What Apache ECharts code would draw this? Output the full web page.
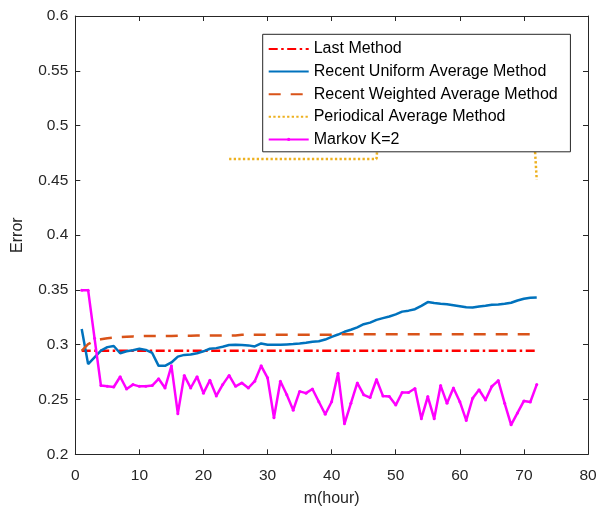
<!DOCTYPE html>
<html>
<head>
<meta charset="utf-8">
<script src="https://cdn.jsdelivr.net/npm/echarts@6/dist/echarts.min.js"></script>
<style>
  html, body { margin: 0; padding: 0; background: #fff; }
  #chart { width: 598px; height: 510px; }
</style>
</head>
<body>
<div id="chart"></div>
<script>
// Forecast error against history length m (hours) for five prediction methods
const hours = [1,2,3,4,5,6,7,8,9,10,11,12,13,14,15,16,17,18,19,20,21,22,23,24,25,26,27,28,29,30,31,32,33,34,35,36,
  37,38,39,40,41,42,43,44,45,46,47,48,49,50,51,52,53,54,55,56,57,58,59,60,61,62,63,64,65,66,67,68,69,70,71,72];

const lastMethod = [0.2945,0.2945,0.2945,0.2945,0.2945,0.2945,0.2945,0.2945,0.2945,0.2945,0.2945,0.2945,
  0.2945,0.2945,0.2945,0.2945,0.2945,0.2945,0.2945,0.2945,0.2945,0.2945,0.2945,0.2945,
  0.2945,0.2945,0.2945,0.2945,0.2945,0.2945,0.2945,0.2945,0.2945,0.2945,0.2945,0.2945,
  0.2945,0.2945,0.2945,0.2945,0.2945,0.2945,0.2945,0.2945,0.2945,0.2945,0.2945,0.2945,
  0.2945,0.2945,0.2945,0.2945,0.2945,0.2945,0.2945,0.2945,0.2945,0.2945,0.2945,0.2945,
  0.2945,0.2945,0.2945,0.2945,0.2945,0.2945,0.2945,0.2945,0.2945,0.2945,0.2945,0.2945];

const uniformAvg = [0.3143,0.2823,0.2885,0.2947,0.2978,0.2988,0.2922,0.2940,0.2950,0.2963,0.2953,0.2925,
  0.2807,0.2807,0.2838,0.2891,0.2907,0.2910,0.2922,0.2940,0.2963,0.2969,0.2981,0.2997,
  0.3000,0.2997,0.2994,0.2984,0.3012,0.3000,0.3000,0.3000,0.3003,0.3006,0.3012,0.3019,
  0.3028,0.3031,0.3047,0.3072,0.3093,0.3118,0.3137,0.3159,0.3187,0.3202,0.3227,0.3243,
  0.3258,0.3277,0.3302,0.3311,0.3324,0.3355,0.3389,0.3380,0.3373,0.3370,0.3361,0.3352,
  0.3342,0.3339,0.3348,0.3355,0.3364,0.3367,0.3373,0.3383,0.3404,0.3420,0.3429,0.3432];

const weightedAvg = [0.2945,0.3005,0.3035,0.3050,0.3060,0.3065,0.3070,0.3073,0.3076,0.3078,0.3080,0.3080,
  0.3080,0.3080,0.3080,0.3083,0.3083,0.3083,0.3084,0.3084,0.3085,0.3085,0.3085,0.3085,
  0.3085,0.3090,0.3090,0.3090,0.3090,0.3090,0.3090,0.3090,0.3090,0.3090,0.3090,0.3090,
  0.3090,0.3090,0.3090,0.3090,0.3095,0.3095,0.3095,0.3095,0.3095,0.3095,0.3095,0.3095,
  0.3095,0.3095,0.3095,0.3095,0.3095,0.3095,0.3095,0.3095,0.3095,0.3095,0.3095,0.3095,
  0.3095,0.3095,0.3095,0.3095,0.3095,0.3095,0.3095,0.3095,0.3095,0.3095,0.3095,0.3095];

const periodicalHours = [24,25,26,27,28,29,30,31,32,33,34,35,36,37,38,39,40,41,42,43,44,45,46,47,
  48,49,50,51,52,53,54,55,56,57,58,59,60,61,62,63,64,65,66,67,68,69,70,71,72];
const periodicalAvg = [0.4695,0.4695,0.4695,0.4695,0.4695,0.4695,0.4695,0.4695,0.4695,0.4695,0.4695,0.4695,
  0.4695,0.4695,0.4695,0.4695,0.4695,0.4695,0.4695,0.4695,0.4695,0.4695,0.4695,0.4695,
  0.55,0.55,0.55,0.55,0.55,0.55,0.55,0.55,0.55,0.55,0.55,0.55,
  0.55,0.55,0.55,0.55,0.55,0.55,0.55,0.55,0.55,0.55,0.55,0.55,0.4504];

const markovK2 = [0.3498,0.3498,0.3060,0.2627,0.2620,0.2614,0.2708,0.2596,0.2636,0.2620,0.2620,0.2627,
  0.2689,0.2605,0.2807,0.2371,0.2720,0.2605,0.2708,0.2558,0.2676,0.2533,0.2636,0.2720,
  0.2620,0.2651,0.2605,0.2667,0.2807,0.2698,0.2334,0.2667,0.2543,0.2403,0.2574,0.2558,
  0.2596,0.2480,0.2365,0.2480,0.2739,0.2278,0.2465,0.2651,0.2543,0.2518,0.2683,0.2533,
  0.2527,0.2449,0.2564,0.2564,0.2600,0.2325,0.2527,0.2325,0.2627,0.2465,0.2605,0.2480,
  0.2309,0.2512,0.2589,0.2496,0.2620,0.2673,0.2465,0.2269,0.2378,0.2487,0.2477,0.2636];

const seriesNames = ['Last Method', 'Recent Uniform Average Method', 'Recent Weighted Average Method',
  'Periodical Average Method', 'Markov K=2'];

const xTicks = { min: 0, max: 80, interval: 10 };
const yTicks = { min: 0.2, max: 0.6, interval: 0.05 };

const FONT = '"Liberation Sans", Arial, Helvetica, sans-serif';
const AXIS_COLOR = '#262626';

function pairs(xs, ys) {
  return xs.map((x, i) => [x, ys[i]]);
}

function axisBase(extra) {
  return Object.assign({
    type: 'value',
    axisLine: { show: true, onZero: false, lineStyle: { color: AXIS_COLOR, width: 1 } },
    axisTick: { show: true, inside: true, length: 5, lineStyle: { color: AXIS_COLOR, width: 1 } },
    splitLine: { show: false },
    axisLabel: { show: false }
  }, extra);
}

// Only the Markov entry carries a point marker in its legend sample
const legendData = seriesNames.map((name, i) => (
  i === seriesNames.length - 1 ? { name: name } : { name: name, itemStyle: { opacity: 0 } }
));

const chart = echarts.init(document.getElementById('chart'), null, { renderer: 'canvas' });

chart.setOption({
  animation: false,
  backgroundColor: '#ffffff',
  grid: {
    left: 75.3, top: 16, right: 10, bottom: 55.7,
    containLabel: false, outerBoundsMode: 'none'
  },
  xAxis: [
    axisBase(Object.assign({}, xTicks, {
      position: 'bottom',
      axisLabel: { show: true, color: AXIS_COLOR, fontSize: 15.5, fontFamily: FONT, margin: 13 },
      name: 'm(hour)', nameLocation: 'middle', nameGap: 36,
      nameTextStyle: { color: AXIS_COLOR, fontSize: 16, fontFamily: FONT }
    })),
    axisBase(Object.assign({}, xTicks, { position: 'top' }))
  ],
  yAxis: [
    axisBase(Object.assign({}, yTicks, {
      position: 'left',
      axisLabel: { show: true, color: AXIS_COLOR, fontSize: 15.5, fontFamily: FONT, margin: 7 },
      name: 'Error', nameLocation: 'middle', nameGap: 50,
      nameTextStyle: { color: AXIS_COLOR, fontSize: 16, fontFamily: FONT }
    })),
    axisBase(Object.assign({}, yTicks, { position: 'right' }))
  ],
  legend: {
    orient: 'vertical',
    left: 262.7, top: 34.3,
    padding: [6.7, 12.7, 4.4, 5],
    itemWidth: 40, itemHeight: 4, itemGap: 6.6,
    backgroundColor: '#ffffff',
    borderColor: AXIS_COLOR, borderWidth: 1,
    textStyle: { color: '#000000', fontSize: 16, fontFamily: FONT },
    data: legendData,
    z: 10
  },
  series: [
    {
      name: seriesNames[0], type: 'line', data: pairs(hours, lastMethod),
      symbol: 'none', color: '#FF0000',
      lineStyle: { color: '#FF0000', width: 2.5, type: [9, 3.5, 2.5, 3.5] }
    },
    {
      name: seriesNames[1], type: 'line', data: pairs(hours, uniformAvg),
      symbol: 'none', color: '#0072BD',
      lineStyle: { color: '#0072BD', width: 2.5, type: 'solid' }
    },
    {
      name: seriesNames[2], type: 'line', data: pairs(hours, weightedAvg),
      symbol: 'none', color: '#D95319',
      lineStyle: { color: '#D95319', width: 2.5, type: [12, 10] }
    },
    {
      name: seriesNames[3], type: 'line', data: pairs(periodicalHours, periodicalAvg),
      symbol: 'none', color: '#EDB120',
      lineStyle: { color: '#EDB120', width: 2.5, type: [2.3, 2.3] }
    },
    {
      name: seriesNames[4], type: 'line', data: pairs(hours, markovK2),
      symbol: 'circle', symbolSize: 3, showSymbol: true, color: '#FF00FF',
      itemStyle: { color: '#FF00FF' },
      lineStyle: { color: '#FF00FF', width: 2.5, type: 'solid' }
    }
  ]
});
</script>
</body>
</html>
